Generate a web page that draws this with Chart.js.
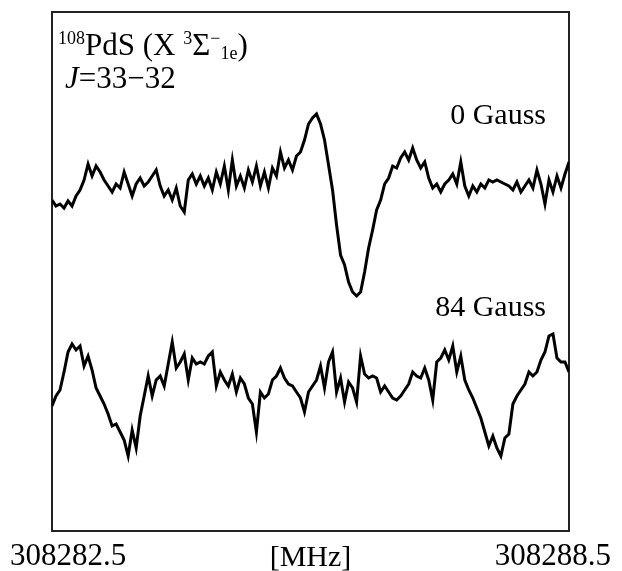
<!DOCTYPE html>
<html>
<head>
<meta charset="utf-8">
<script src="https://cdn.jsdelivr.net/npm/chart.js@4/dist/chart.umd.min.js"></script>
<style>
  html, body { margin: 0; padding: 0; background: #fff; }
  #wrap { width: 622px; height: 571px; }
</style>
</head>
<body>
<div id="wrap"><canvas id="spec" width="622" height="571"></canvas></div>
<script>
// 108PdS J=33-32 Zeeman scan, two traces (0 G and 84 G), arbitrary intensity units.

const FREQ_MIN = 308282.302;
const FREQ_MAX = 308288.698;
const FREQ_TICKS = [308282.5, 308288.5];

// 0 Gauss trace (upper)
const ZERO_GAUSS = [
  331, 325, 327, 323, 330, 325, 335, 341, 351, 367, 355, 365, 359, 351, 345, 339,
  347, 343, 359, 347, 335, 347, 353, 345, 349, 355, 361, 345, 335, 341, 331, 343,
  325, 319, 351, 357, 347, 355, 345, 353, 341, 359, 347, 365, 341, 371, 345, 355,
  343, 361, 349, 365, 345, 359, 343, 363, 355, 379, 363, 371, 361, 375, 379, 391,
  407, 413, 417, 407, 391, 366, 341, 306, 276, 266, 249, 239, 235, 239, 259, 283,
  301, 321, 331, 347, 353, 365, 363, 373, 379, 371, 383, 371, 363, 369, 353, 343,
  347, 339, 347, 351, 357, 347, 369, 345, 335, 345, 339, 347, 343, 351, 349, 351,
  349, 347, 345, 341, 349, 339, 345, 351, 343, 361, 347, 327, 351, 339, 355, 343,
  357, 369,
];

// 84 Gauss trace (lower)
const GAUSS_84 = [
  125, 135, 141, 159, 179, 187, 181, 185, 165, 175, 161, 143, 135, 127, 117, 105,
  107,  99,  91,  75, 101,  83, 115, 135, 155, 135, 151, 155, 145, 167, 189, 163,
  169, 177, 151, 173, 167, 169, 167, 175, 179, 145, 159, 151, 145, 157, 139, 153,
  147, 133, 127,  99, 139, 133, 137, 151, 155, 163, 153, 147, 145, 139, 133, 119,
  139, 145, 151, 165, 143, 169, 179, 139, 153, 129, 149, 143, 129, 175, 157, 153,
  155, 153, 139, 145, 139, 133, 131, 135, 141, 147, 159, 155, 153, 163, 151, 131,
  169, 173, 181, 171, 185, 159, 175, 151, 141, 133, 123, 113,  99,  85,  95,  83,
   75,  93,  97, 127, 135, 141, 147, 159, 155, 159, 171, 179, 195, 197, 173, 169,
  169, 159,
];

const Y_MIN = 0;
const Y_MAX = 519;

const SERIF = "'Liberation Serif', 'Times New Roman', serif";

function toPoints(values) {
  const step = (FREQ_MAX - FREQ_MIN) / (values.length - 1);
  return values.map((v, i) => ({ x: FREQ_MIN + i * step, y: v }));
}

// draws a run of [text, size, dy, italic] pieces left to right
function drawRuns(ctx, x, baseline, runs) {
  for (const [text, size, dy, italic] of runs) {
    ctx.font = `${italic ? "italic " : ""}${size}px ${SERIF}`;
    ctx.fillText(text, x, baseline + dy);
    x += ctx.measureText(text).width;
  }
}

const labelsPlugin = {
  id: "labels",
  afterDraw(chart) {
    const { ctx, chartArea } = chart;
    ctx.save();
    ctx.fillStyle = "#000";
    ctx.textBaseline = "alphabetic";

    ctx.textAlign = "left";
    drawRuns(ctx, chartArea.left + 6, 55, [
      ["108", 18, -11, false],
      ["PdS (X ", 31, 0, false],
      ["3", 18, -11, false],
      ["\u03A3", 31, 0, false],
      ["\u2212", 18, -11, false],
      ["1e", 18, 4, false],
      [")", 31, 0, false],
    ]);
    drawRuns(ctx, chartArea.left + 13, 88, [
      ["J", 31, 0, true],
      ["=33\u221232", 31, 0, false],
    ]);

    ctx.font = `30px ${SERIF}`;
    ctx.textAlign = "right";
    ctx.fillText("0 Gauss", 546, 124);
    ctx.fillText("84 Gauss", 546, 316);

    ctx.textAlign = "center";
    ctx.fillText("[MHz]", (chartArea.left + chartArea.right) / 2, 566);
    ctx.restore();
  },
};

const frame = { display: true, color: "#222", width: 2 };

new Chart(document.getElementById("spec"), {
  type: "line",
  data: {
    datasets: [
      { label: "0 Gauss", data: toPoints(ZERO_GAUSS) },
      { label: "84 Gauss", data: toPoints(GAUSS_84) },
    ],
  },
  options: {
    responsive: false,
    animation: false,
    events: [],
    layout: { padding: { left: 52, right: 53, top: 12, bottom: 0 } },
    elements: {
      line: { borderColor: "#000", borderWidth: 3, tension: 0, borderJoinStyle: "miter" },
      point: { radius: 0 },
    },
    plugins: { legend: { display: false }, tooltip: { enabled: false } },
    scales: {
      x: {
        type: "linear",
        min: FREQ_MIN,
        max: FREQ_MAX,
        grid: { display: false, drawTicks: false },
        border: frame,
        afterBuildTicks: (scale) => { scale.ticks = FREQ_TICKS.map(v => ({ value: v })); },
        afterFit: (scale) => { scale.height = 40; },
        ticks: {
          color: "#000",
          padding: 7,
          maxRotation: 0,
          autoSkip: false,
          font: { family: SERIF, size: 31 },
          callback: (v) => Number(v).toFixed(1),
        },
      },
      xTop: {
        type: "linear", position: "top", min: FREQ_MIN, max: FREQ_MAX,
        grid: { display: false, drawTicks: false }, border: frame, ticks: { display: false },
      },
      y: {
        min: Y_MIN, max: Y_MAX,
        grid: { display: false, drawTicks: false }, border: frame, ticks: { display: false },
      },
      yRight: {
        position: "right", min: Y_MIN, max: Y_MAX,
        grid: { display: false, drawTicks: false }, border: frame, ticks: { display: false },
      },
    },
  },
  plugins: [labelsPlugin],
});
</script>
</body>
</html>
